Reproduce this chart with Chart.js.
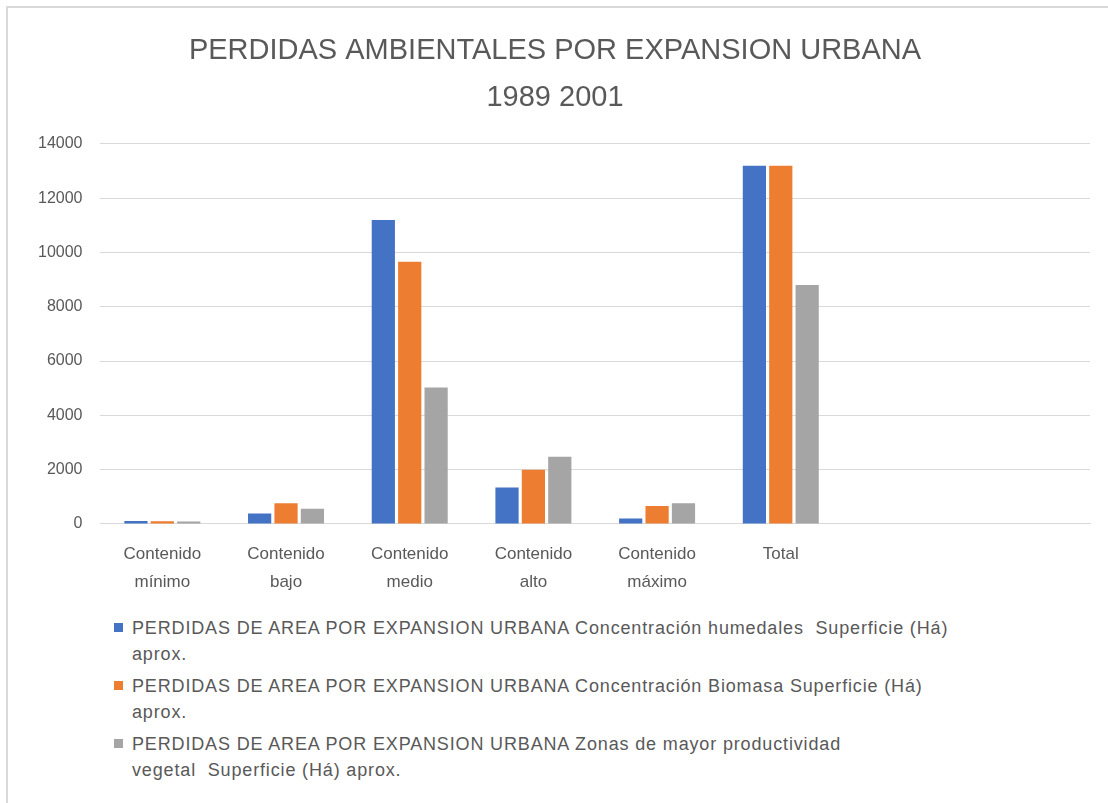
<!DOCTYPE html>
<html>
<head>
<meta charset="utf-8">
<script src="https://cdn.jsdelivr.net/npm/chart.js@4"></script>
<style>
  html, body { margin: 0; padding: 0; background: #fff; }
  #wrap { position: relative; width: 1108px; height: 803px; overflow: hidden; }
  #frame { position: absolute; left: 6px; top: 6px; width: 1120px; height: 820px; border: 2px solid #d9d9d9; box-sizing: border-box; }
  #chartBox { position: absolute; left: 0; top: 0; width: 1108px; height: 604px; }
  #legend { position: absolute; left: 114px; top: 615px; font-family: 'Liberation Sans', sans-serif; font-size: 18px; letter-spacing: 0.85px; color: #595959; white-space: pre; }
  .item { position: relative; padding-left: 18px; line-height: 26px; margin-bottom: 6px; }
  .swatch { position: absolute; left: 0; top: 8px; width: 9px; height: 9px; }
</style>
</head>
<body>
<div id="wrap">
  <div id="frame"></div>
  <div id="chartBox"><canvas id="lossChart"></canvas></div>
  <div id="legend"></div>
</div>
<script>
// Chart data
const categories = [
  ['Contenido', 'mínimo'],
  ['Contenido', 'bajo'],
  ['Contenido', 'medio'],
  ['Contenido', 'alto'],
  ['Contenido', 'máximo'],
  'Total',
  '',
  ''
];
const humedales = [110, 380, 11190, 1340, 195, 13190, null, null];
const biomasa = [100, 760, 9660, 1990, 660, 13190, null, null];
const productividad = [90, 560, 5020, 2470, 760, 8800, null, null];
// legend names, split where the original wraps them
const seriesNames = [
  ['PERDIDAS DE AREA POR EXPANSION URBANA Concentración humedales  Superficie (Há)', 'aprox.'],
  ['PERDIDAS DE AREA POR EXPANSION URBANA Concentración Biomasa Superficie (Há)', 'aprox.'],
  ['PERDIDAS DE AREA POR EXPANSION URBANA Zonas de mayor productividad', 'vegetal  Superficie (Há) aprox.']
];
const colors = ['#4472c4', '#ed7d31', '#a5a5a5'];
const yTicks = { min: 0, max: 14000, step: 2000 };
const titleLines = ['PERDIDAS AMBIENTALES POR EXPANSION URBANA', '1989 2001'];

const textColor = '#595959';
const fontFamily = "'Liberation Sans', sans-serif";

const datasets = [humedales, biomasa, productividad].map((values, i) => ({
  label: seriesNames[i].join(' '),
  data: values,
  backgroundColor: colors[i],
  borderWidth: 0,
  categoryPercentage: 0.64,
  barPercentage: 0.88
}));

new Chart(document.getElementById('lossChart'), {
  type: 'bar',
  data: {
    labels: categories,
    datasets: datasets
  },
  options: {
    responsive: true,
    maintainAspectRatio: false,
    animation: false,
    layout: {
      padding: { left: 20, right: 18, top: 28, bottom: 0 }
    },
    scales: {
      x: {
        grid: { display: false },
        border: { color: '#d9d9d9', width: 1 },
        ticks: {
          color: textColor,
          font: { family: fontFamily, size: 17, lineHeight: 1.65 },
          maxRotation: 0,
          autoSkip: false,
          padding: 8
        }
      },
      y: {
        min: yTicks.min,
        max: yTicks.max,
        grid: { color: '#d9d9d9', lineWidth: 1, drawTicks: false },
        border: { display: false },
        ticks: {
          stepSize: yTicks.step,
          color: textColor,
          font: { family: fontFamily, size: 16 },
          padding: 18,
          callback: (v) => String(v)
        }
      }
    },
    plugins: {
      legend: { display: false },
      tooltip: { enabled: false },
      title: {
        display: true,
        text: titleLines,
        color: textColor,
        font: { family: fontFamily, size: 29, weight: 'normal', lineHeight: 1.6 },
        padding: { top: 0, bottom: 23 }
      }
    }
  }
});

// HTML legend so long labels can wrap like the original
const legendEl = document.getElementById('legend');
seriesNames.forEach((lines, i) => {
  const item = document.createElement('div');
  item.className = 'item';
  item.innerHTML = '<span class="swatch" style="background:' + colors[i] + '"></span>' + lines.join('\n');
  legendEl.appendChild(item);
});
</script>
</body>
</html>
